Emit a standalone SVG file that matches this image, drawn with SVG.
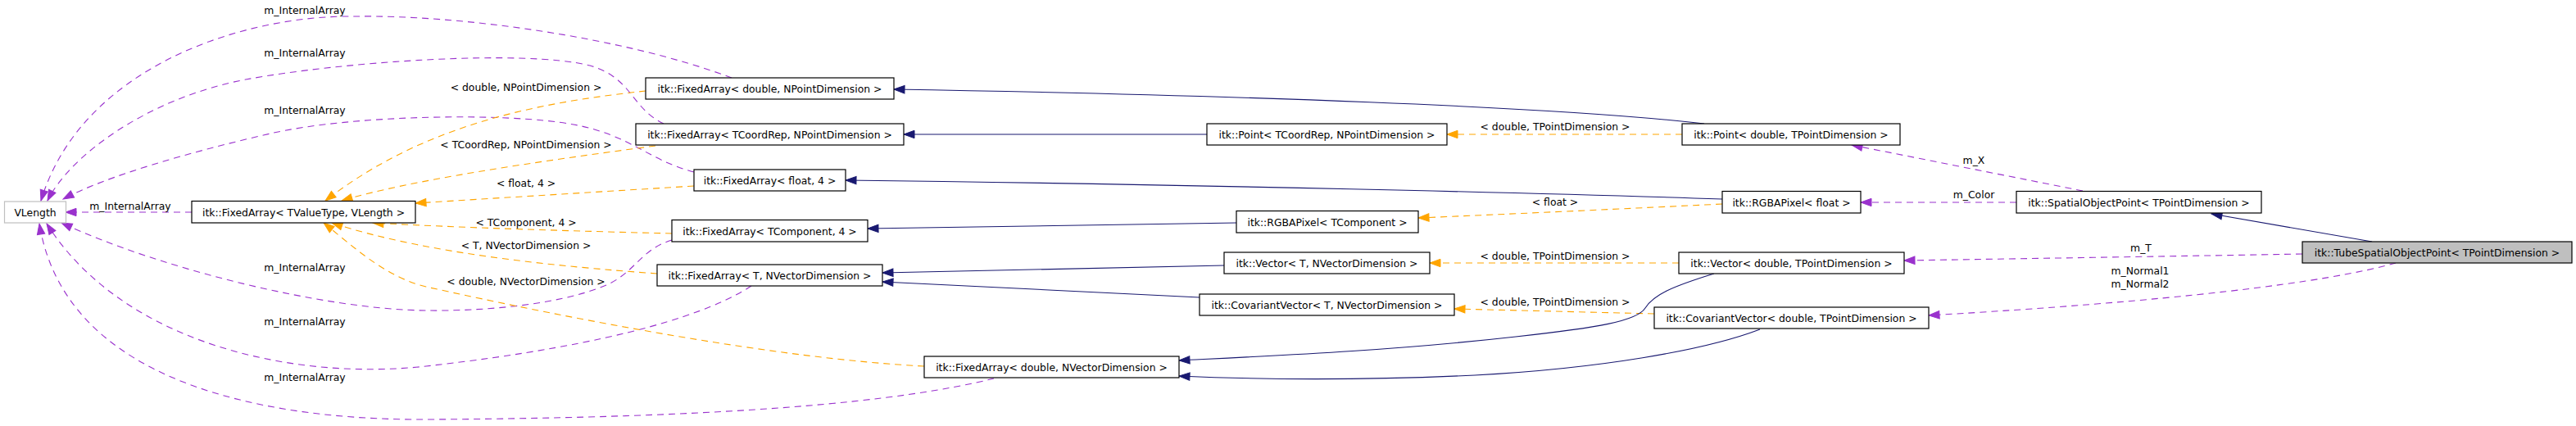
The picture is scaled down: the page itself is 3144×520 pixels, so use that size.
<svg xmlns="http://www.w3.org/2000/svg" width="3144" height="520" viewBox="0 0 3144 520">
<style>
  .n rect { fill: #ffffff; stroke: #000000; stroke-width: 1.2; }
  .n.gray rect { stroke: #bfbfbf; }
  .n.cur rect { fill: #bfbfbf; }
  text { font-family: "DejaVu Sans", "Liberation Sans", sans-serif; font-size: 12.4px; fill: #000000; text-anchor: middle; }
  .e path { fill: none; stroke-width: 1.1; }
  .mem { stroke: #9a32cd; stroke-dasharray: 8,6; }
  .tpl { stroke: #ffa500; stroke-dasharray: 8,6; }
  .inh { stroke: #191970; }
  .mem { marker-end: url(#aMem); }
  .tpl { marker-end: url(#aTpl); }
  .inh { marker-end: url(#aInh); }
</style>
<defs>
  <marker id="aMem" markerUnits="userSpaceOnUse" markerWidth="14" markerHeight="10" refX="13" refY="4.7" orient="auto" overflow="visible">
    <path d="M0,0 L13,4.7 L0,9.4 z" fill="#9a32cd" stroke="#9a32cd" stroke-width="1" stroke-dasharray="none"/>
  </marker>
  <marker id="aTpl" markerUnits="userSpaceOnUse" markerWidth="14" markerHeight="10" refX="13" refY="4.7" orient="auto" overflow="visible">
    <path d="M0,0 L13,4.7 L0,9.4 z" fill="#ffa500" stroke="#ffa500" stroke-width="1" stroke-dasharray="none"/>
  </marker>
  <marker id="aInh" markerUnits="userSpaceOnUse" markerWidth="14" markerHeight="10" refX="13" refY="4.7" orient="auto" overflow="visible">
    <path d="M0,0 L13,4.7 L0,9.4 z" fill="#191970" stroke="#191970" stroke-width="1" stroke-dasharray="none"/>
  </marker>
</defs>
<rect x="0" y="0" width="3144" height="520" fill="#ffffff"/>

<g id="connectors" class="e">
  <!-- member edges (purple) -->
  <path class="mem" d="M234,259 L80,259"/>
  <path class="mem" d="M893,95 C760,45 560,18 433,20 C300,18 100,80 50,245"/>
  <path class="mem" d="M810,151 C770,132 772,95 720,80 C640,60 420,75 300,97 C180,120 85,190 58,245"/>
  <path class="mem" d="M847,210 C790,195 770,165 700,152 C620,137 430,140 330,163 C230,186 130,215 77,243"/>
  <path class="mem" d="M820,293 C780,305 775,335 735,350 C680,372 590,380 520,379 C400,378 200,330 75,272"/>
  <path class="mem" d="M917,349 C870,380 760,420 520,447 C360,465 150,420 57,273"/>
  <path class="mem" d="M1213,462 C1100,490 900,510 520,512 C330,513 80,470 48,273"/>
  <path class="mem" d="M2542,233 L2260,177"/>
  <path class="mem" d="M2461,247 L2271,247"/>
  <path class="mem" d="M2810,310 C2700,312 2450,316 2324,318"/>
  <path class="mem" d="M2924,321 C2840,345 2650,368 2354,385"/>
  <!-- template instance edges (orange) -->
  <path class="tpl" d="M788,111 C660,125 520,150 397,245"/>
  <path class="tpl" d="M800,178 C650,198 500,220 417,245"/>
  <path class="tpl" d="M847,227 L507,248"/>
  <path class="tpl" d="M820,285 C700,282 560,278 455,272"/>
  <path class="tpl" d="M802,334 C680,325 520,310 405,272"/>
  <path class="tpl" d="M1128,447 C950,438 700,390 520,350 C470,338 430,300 395,272"/>
  <path class="tpl" d="M2053,164 L1766,164"/>
  <path class="tpl" d="M2102,249 C2000,254 1850,261 1731,266"/>
  <path class="tpl" d="M2049,321 L1745,321"/>
  <path class="tpl" d="M2019,383 L1775,377"/>
  <!-- inheritance edges (navy) -->
  <path class="inh" d="M2080,151 C1900,130 1500,116 1091,109"/>
  <path class="inh" d="M1473,164 L1103,164"/>
  <path class="inh" d="M2102,243 C1900,236 1450,225 1032,220"/>
  <path class="inh" d="M1509,272 L1059,279"/>
  <path class="inh" d="M1494,324 L1077,333"/>
  <path class="inh" d="M1464,363 L1077,344"/>
  <path class="inh" d="M2092,334 C2040,350 2018,360 2008,376 C1998,392 1950,400 1850,411 C1700,428 1560,434 1439,440"/>
  <path class="inh" d="M2148,402 C2080,428 1950,450 1800,458 C1650,465 1530,463 1439,459"/>
  <path class="inh" d="M2895,295 L2699,261"/>
</g>

<g id="edge-labels">
  <text x="159" y="256">m_InternalArray</text>
  <text x="372" y="17">m_InternalArray</text>
  <text x="372" y="69">m_InternalArray</text>
  <text x="372" y="139">m_InternalArray</text>
  <text x="372" y="331">m_InternalArray</text>
  <text x="372" y="397">m_InternalArray</text>
  <text x="372" y="465">m_InternalArray</text>
  <text x="642" y="111">&lt; double, NPointDimension &gt;</text>
  <text x="642" y="181">&lt; TCoordRep, NPointDimension &gt;</text>
  <text x="642" y="228">&lt; float, 4 &gt;</text>
  <text x="642" y="276">&lt; TComponent, 4 &gt;</text>
  <text x="642" y="304">&lt; T, NVectorDimension &gt;</text>
  <text x="642" y="348">&lt; double, NVectorDimension &gt;</text>
  <text x="1898" y="159">&lt; double, TPointDimension &gt;</text>
  <text x="1898" y="251">&lt; float &gt;</text>
  <text x="1898" y="317">&lt; double, TPointDimension &gt;</text>
  <text x="1898" y="373">&lt; double, TPointDimension &gt;</text>
  <text x="2409" y="200">m_X</text>
  <text x="2409" y="242">m_Color</text>
  <text x="2613" y="307">m_T</text>
  <text x="2612" y="335">m_Normal1</text>
  <text x="2612" y="351">m_Normal2</text>
</g>

<g id="node-VLength" class="n gray"><rect x="5.5" y="246" width="75" height="26"/><text x="43" y="263.5">VLength</text></g>
<g id="node-FixedArray-TValueType-VLength" class="n"><rect x="234" y="245.5" width="273" height="26.5"/><text x="370.5" y="263.5">itk::FixedArray&lt; TValueType, VLength &gt;</text></g>
<g id="node-FixedArray-double-NPointDimension" class="n"><rect x="788" y="95" width="303" height="26"/><text x="939.5" y="112.5">itk::FixedArray&lt; double, NPointDimension &gt;</text></g>
<g id="node-FixedArray-TCoordRep-NPointDimension" class="n"><rect x="776" y="151" width="327" height="26"/><text x="939.5" y="168.5">itk::FixedArray&lt; TCoordRep, NPointDimension &gt;</text></g>
<g id="node-FixedArray-float-4" class="n"><rect x="847" y="207" width="185" height="26"/><text x="939.5" y="224.5">itk::FixedArray&lt; float, 4 &gt;</text></g>
<g id="node-FixedArray-TComponent-4" class="n"><rect x="820" y="268.5" width="239" height="26.5"/><text x="939.5" y="286.5">itk::FixedArray&lt; TComponent, 4 &gt;</text></g>
<g id="node-FixedArray-T-NVectorDimension" class="n"><rect x="802" y="323" width="275" height="26"/><text x="939.5" y="340.5">itk::FixedArray&lt; T, NVectorDimension &gt;</text></g>
<g id="node-FixedArray-double-NVectorDimension" class="n"><rect x="1128" y="435" width="311" height="26"/><text x="1283.5" y="452.5">itk::FixedArray&lt; double, NVectorDimension &gt;</text></g>
<g id="node-Point-TCoordRep-NPointDimension" class="n"><rect x="1473" y="151" width="293" height="26"/><text x="1619.5" y="168.5">itk::Point&lt; TCoordRep, NPointDimension &gt;</text></g>
<g id="node-RGBAPixel-TComponent" class="n"><rect x="1509" y="257.5" width="222" height="26.5"/><text x="1620" y="275.5">itk::RGBAPixel&lt; TComponent &gt;</text></g>
<g id="node-Vector-T-NVectorDimension" class="n"><rect x="1494" y="308" width="251" height="26"/><text x="1619.5" y="325.5">itk::Vector&lt; T, NVectorDimension &gt;</text></g>
<g id="node-CovariantVector-T-NVectorDimension" class="n"><rect x="1464" y="359" width="311" height="26"/><text x="1619.5" y="376.5">itk::CovariantVector&lt; T, NVectorDimension &gt;</text></g>
<g id="node-Point-double-TPointDimension" class="n"><rect x="2053" y="151" width="266" height="26"/><text x="2186" y="168.5">itk::Point&lt; double, TPointDimension &gt;</text></g>
<g id="node-RGBAPixel-float" class="n"><rect x="2102" y="233.5" width="169" height="26.5"/><text x="2186.5" y="251.5">itk::RGBAPixel&lt; float &gt;</text></g>
<g id="node-Vector-double-TPointDimension" class="n"><rect x="2049" y="308" width="275" height="26"/><text x="2186.5" y="325.5">itk::Vector&lt; double, TPointDimension &gt;</text></g>
<g id="node-CovariantVector-double-TPointDimension" class="n"><rect x="2019" y="375" width="335" height="26"/><text x="2186.5" y="392.5">itk::CovariantVector&lt; double, TPointDimension &gt;</text></g>
<g id="node-SpatialObjectPoint" class="n"><rect x="2461" y="233.5" width="299" height="26.5"/><text x="2610.5" y="251.5">itk::SpatialObjectPoint&lt; TPointDimension &gt;</text></g>
<g id="node-TubeSpatialObjectPoint" class="n cur"><rect x="2810" y="295" width="329" height="26"/><text x="2974.5" y="312.5">itk::TubeSpatialObjectPoint&lt; TPointDimension &gt;</text></g>
</svg>
